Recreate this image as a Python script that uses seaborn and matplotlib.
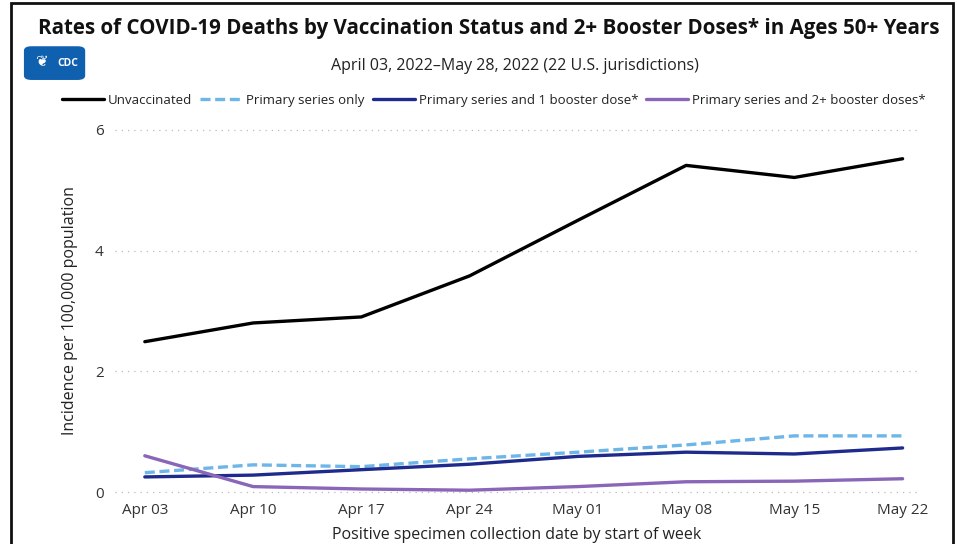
import numpy as np
import matplotlib.pyplot as plt
import seaborn as sns
import pandas as pd
from matplotlib.patches import FancyBboxPatch, Rectangle

# weekly death rates per 100,000, ages 50+
weeks = ["Apr 03", "Apr 10", "Apr 17", "Apr 24", "May 01", "May 08", "May 15", "May 22"]
unvaccinated = [2.49, 2.80, 2.90, 3.58, 4.50, 5.41, 5.21, 5.52]
primary_only = [0.32, 0.45, 0.42, 0.55, 0.66, 0.78, 0.93, 0.93]
one_booster = [0.25, 0.28, 0.37, 0.46, 0.59, 0.66, 0.63, 0.73]
two_booster = [0.60, 0.09, 0.05, 0.03, 0.09, 0.17, 0.18, 0.22]

groups = ["Unvaccinated", "Primary series only",
          "Primary series and 1 booster dose*", "Primary series and 2+ booster doses*"]
colors = ["#000000", "#6EB5E8", "#1E2A8C", "#8A66B8"]

df = pd.DataFrame({
    "week": list(range(len(weeks))) * 4,
    "rate": unvaccinated + primary_only + one_booster + two_booster,
    "group": np.repeat(groups, len(weeks)),
})

sns.set_style("white")
plt.rcParams['font.family'] = ['Open Sans', 'DejaVu Sans']

fig = plt.figure(figsize=(9.57, 5.44), dpi=100)
ax = fig.add_axes([0.120, 0.090, 0.839, 0.677])

sns.lineplot(data=df, x="week", y="rate", hue="group", style="group",
             hue_order=groups, style_order=groups, palette=colors,
             dashes={groups[0]: "", groups[1]: (3, 1.4), groups[2]: "", groups[3]: ""},
             linewidth=2.4, ax=ax, legend=False)

ax.set_xlim(-0.277, 7.14)
ax.set_ylim(-0.05, 6.05)
ax.set_yticks([0, 2, 4, 6])
ax.set_xticks(range(len(weeks)))
ax.set_xticklabels(weeks)
ax.tick_params(axis='both', labelsize=11, colors='#333333', length=0)
ax.tick_params(axis='y', pad=8)
ax.tick_params(axis='x', pad=6)
ax.yaxis.grid(True, linestyle=(0, (1, 4)), color='#bbbbbb', linewidth=0.9)
ax.xaxis.grid(False)
sns.despine(ax=ax, left=True, bottom=True)
ax.set_xlabel("Positive specimen collection date by start of week", fontsize=11.5, color='#222222', labelpad=6)
ax.set_ylabel("Incidence per 100,000 population", fontsize=11.5, color='#222222', labelpad=12)

# legend row
handles = [plt.Line2D([], [], color=c, linewidth=2.4, linestyle=ls)
           for c, ls in zip(colors, ['-', (0, (3, 1.4)), '-', '-'])]
fig.legend(handles, groups, loc='center', bbox_to_anchor=(0.516, 0.816), ncol=4,
           frameon=False, fontsize=9.5, handlelength=3.2, handletextpad=0.3,
           columnspacing=0.6, labelcolor='#222222')

fig.text(0.511, 0.948, "Rates of COVID-19 Deaths by Vaccination Status and 2+ Booster Doses* in Ages 50+ Years",
         ha='center', va='center', fontsize=14.8, fontweight='bold', color='#111111')
fig.text(0.538, 0.879, "April 03, 2022\u2013May 28, 2022 (22 U.S. jurisdictions)",
         ha='center', va='center', fontsize=11.5, color='#222222')

# CDC badge
badge = FancyBboxPatch((0.027, 0.855), 0.060, 0.058, boxstyle="round,pad=0.002,rounding_size=0.008",
                       transform=fig.transFigure, facecolor='#1060B0', edgecolor='none')
fig.patches.append(badge)
fig.text(0.071, 0.884, "CDC", ha='center', va='center', fontsize=7.5, color='white', fontweight='bold')
fig.text(0.043, 0.884, "\u2766", ha='center', va='center', fontsize=11, color='white')

# frame around the figure
frame = Rectangle((0.011, -0.05), 0.985, 1.045, transform=fig.transFigure,
                  fill=False, edgecolor='#111111', linewidth=2)
fig.patches.append(frame)

fig.savefig("out.png", dpi=100)
